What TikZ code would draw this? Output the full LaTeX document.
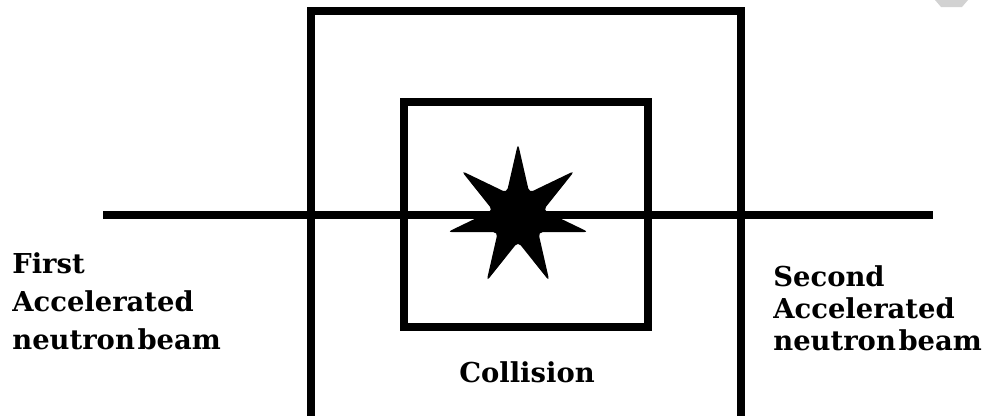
\documentclass[tikz,border=0pt]{standalone}
\usepackage{fontspec}
\setmainfont{DejaVu Serif}
\usetikzlibrary{shapes.geometric}

\begin{document}
\begin{tikzpicture}[x=0.02cm, y=-0.02cm,
  box/.style={draw, line width=4.8pt, inner sep=0pt},
  beam/.style={line width=4pt},
  burst/.style={star, star points=7, star point ratio=2.8, fill=black, inner sep=0pt, minimum size=2.9cm, rounded corners=2.5pt},
  beamtext/.style={font=\bfseries\fontsize{15.6}{#1}\selectfont, align=left, inner sep=0pt},
  beamtext/.default=21.6
]
  \useasboundingbox (0,0) rectangle (985,416);
  \clip (0,0) rectangle (985,416);

  % chamber
  \node[box, minimum width=8.6cm, minimum height=8.6cm] (outer) at (526,226) {};
  \node[box, minimum width=4.88cm, minimum height=4.5cm] (inner) at (526,214.5) {};

  % beam line
  \coordinate (beamL) at (103,215);
  \coordinate (beamR) at (933,215);
  \draw[beam] (beamL) -- (beamR);

  % collision point
  \node[burst] (flash) at (518,216) {};

  % labels
  \node[beamtext, anchor=north west] (first) at (12,252) {First\\Accelerated\\neutron\hspace{1.5pt}beam};
  \node[beamtext=18.2, anchor=north west] (second) at (773,265) {Second\\Accelerated\\neutron\hspace{1.5pt}beam};
  \node[beamtext, anchor=base] (collision) at (527,382) {Collision};

  % corner mark
  \fill[gray!35] (935,0) -- (968,0) -- (962,7) -- (941,7) -- cycle;
\end{tikzpicture}
\end{document}
